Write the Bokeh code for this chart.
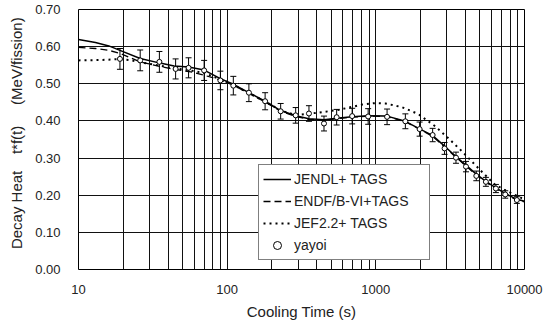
from bokeh.plotting import figure
from bokeh.models import (FixedTicker, NumeralTickFormatter, Whisker, TeeHead,
                          ColumnDataSource, Legend, LegendItem)
from bokeh.embed import file_html
from bokeh.resources import INLINE

# ---- data ----
x_ticks = [10, 100, 1000, 10000]
x_minor = [20, 30, 40, 50, 60, 70, 80, 90, 200, 300, 400, 500, 600, 700, 800, 900,
           2000, 3000, 4000, 5000, 6000, 7000, 8000, 9000]
y_ticks = [0.0, 0.1, 0.2, 0.3, 0.4, 0.5, 0.6, 0.7]

jendl_t = [10, 13, 16, 19, 26, 36, 44, 55, 70, 90, 108, 140, 180, 229, 289, 355, 448,
           545, 693, 890, 1190, 1580, 1940, 2400, 2940, 3460, 4030, 4760, 5500, 6420,
           7400, 8880, 10000]
jendl_v = [0.619, 0.611, 0.602, 0.590, 0.568, 0.555, 0.548, 0.545, 0.537, 0.514, 0.500,
           0.476, 0.453, 0.428, 0.414, 0.406, 0.403, 0.407, 0.411, 0.414, 0.413, 0.399,
           0.380, 0.361, 0.330, 0.304, 0.281, 0.256, 0.237, 0.220, 0.205, 0.189, 0.184]

endf_t = [10, 13, 16, 19, 26, 36, 44, 57, 70, 90, 108, 140, 180, 229, 289, 355, 448,
          545, 693, 890, 1190, 1580, 1940, 2400, 2940, 3460, 4030, 4760, 5500, 6420,
          7400, 8880, 10000]
endf_v = [0.598, 0.595, 0.590, 0.582, 0.559, 0.546, 0.539, 0.532, 0.523, 0.510, 0.498,
          0.474, 0.451, 0.426, 0.412, 0.404, 0.402, 0.406, 0.410, 0.413, 0.412, 0.398,
          0.379, 0.359, 0.328, 0.302, 0.279, 0.254, 0.235, 0.218, 0.203, 0.187, 0.182]

jef_t = [10, 14, 18, 22, 26, 36, 45, 55, 70, 90, 108, 140, 180, 229, 289, 365, 460, 566,
         693, 810, 990, 1160, 1290, 1500, 1700, 1940, 2150, 2520, 2800, 3160, 3800, 4650,
         5200, 6300, 7300, 8200, 9600, 10000]
jef_v = [0.563, 0.564, 0.566, 0.564, 0.558, 0.548, 0.541, 0.537, 0.529, 0.512, 0.499,
         0.475, 0.452, 0.428, 0.416, 0.420, 0.425, 0.430, 0.438, 0.444, 0.448, 0.447,
         0.443, 0.437, 0.428, 0.418, 0.405, 0.385, 0.368, 0.349, 0.318, 0.282, 0.262,
         0.229, 0.215, 0.205, 0.192, 0.190]

yayoi_t = [19, 26, 35, 45, 55, 70, 90, 110, 140, 180, 229, 289, 355, 448, 545, 693, 888,
           1190, 1580, 1970, 2410, 2900, 3460, 4040, 4740, 5500, 6420, 7420, 8880]
yayoi_v = [0.567, 0.563, 0.559, 0.540, 0.543, 0.536, 0.509, 0.495, 0.476, 0.453, 0.426,
           0.415, 0.420, 0.393, 0.410, 0.413, 0.412, 0.411, 0.399, 0.378, 0.362, 0.326,
           0.301, 0.277, 0.252, 0.236, 0.218, 0.202, 0.187]
yayoi_err = [0.028, 0.028, 0.028, 0.027, 0.027, 0.027, 0.025, 0.025, 0.024, 0.023, 0.021,
             0.021, 0.021, 0.020, 0.021, 0.021, 0.021, 0.021, 0.020, 0.019, 0.018, 0.016,
             0.015, 0.014, 0.013, 0.012, 0.011, 0.010, 0.009]

FONT = "Liberation Sans"

p = figure(frame_width=446, frame_height=260, x_axis_type="log", x_range=(10, 10000),
           y_range=(0, 0.7), output_backend="svg", toolbar_location=None,
           min_border_left=78, min_border_right=20, min_border_top=9,
           min_border_bottom=10)
p.background_fill_color = "white"
p.border_fill_color = "white"
p.outline_line_color = "black"
p.outline_line_width = 1

xt = FixedTicker(ticks=x_ticks, minor_ticks=x_minor)
yt = FixedTicker(ticks=y_ticks)
p.xaxis.ticker = xt
p.yaxis.ticker = yt
p.xgrid.ticker = xt
p.ygrid.ticker = yt
p.xaxis.formatter = NumeralTickFormatter(format="0")
p.yaxis.formatter = NumeralTickFormatter(format="0.00")

for g in (p.xgrid, p.ygrid):
    g.grid_line_color = "#111111"
    g.grid_line_width = 1
p.xgrid.minor_grid_line_color = "#111111"
p.xgrid.minor_grid_line_width = 1

p.axis.axis_line_color = None
p.axis.major_tick_line_color = None
p.axis.minor_tick_line_color = None
p.axis.major_tick_out = 0
p.axis.major_tick_in = 0
p.axis.minor_tick_out = 0
p.axis.minor_tick_in = 0
p.axis.major_label_text_font = FONT
p.axis.major_label_text_font_size = "13px"
p.axis.major_label_text_color = "#222222"
p.axis.axis_label_text_font = FONT
p.axis.axis_label_text_font_size = "15px"
p.axis.axis_label_text_font_style = "normal"
p.axis.axis_label_text_color = "#222222"
p.yaxis.major_label_standoff = 18
p.xaxis.major_label_standoff = 15
p.yaxis.axis_label_standoff = 7
p.xaxis.axis_label_standoff = 6

nb = "\u00a0"
p.xaxis.axis_label = "Cooling Time (s)"
p.yaxis.axis_label = nb * 3 + "Decay Heat" + nb * 4 + "t*f(t)" + nb * 5 + "(MeV/fission)"

r_jendl = p.line(jendl_t, jendl_v, line_color="black", line_width=1.5)
r_endf = p.line(endf_t, endf_v, line_color="black", line_width=1.3, line_dash="7 4")
r_jef = p.line(jef_t, jef_v, line_color="black", line_width=2, line_dash="2 4")

src = ColumnDataSource(dict(
    t=yayoi_t, v=yayoi_v,
    lo=[v - e for v, e in zip(yayoi_v, yayoi_err)],
    hi=[v + e for v, e in zip(yayoi_v, yayoi_err)]))
wh = Whisker(source=src, base="t", lower="lo", upper="hi", dimension="height",
             line_color="black", line_width=1,
             upper_head=TeeHead(size=6, line_color="black", line_width=1),
             lower_head=TeeHead(size=6, line_color="black", line_width=1))
p.add_layout(wh)
r_yayoi = p.scatter("t", "v", source=src, marker="circle", size=5,
                    fill_color="white", line_color="black", line_width=1)

legend = Legend(items=[
    LegendItem(label="JENDL+ TAGS", renderers=[r_jendl]),
    LegendItem(label="ENDF/B-VI+TAGS", renderers=[r_endf]),
    LegendItem(label="JEF2.2+ TAGS", renderers=[r_jef]),
    LegendItem(label="yayoi", renderers=[r_yayoi]),
], location=(180, 9))
legend.label_text_font = FONT
legend.label_text_font_size = "14px"
legend.label_text_color = "#222222"
legend.border_line_color = "black"
legend.border_line_width = 1
legend.background_fill_color = "white"
legend.background_fill_alpha = 1
legend.glyph_width = 28
legend.glyph_height = 20
legend.label_height = 20
legend.label_width = 131
legend.label_standoff = 3
legend.spacing = 2
legend.padding = 4
legend.margin = 0
p.add_layout(legend, "center")

open("out.html", "w").write(file_html(p, INLINE))
